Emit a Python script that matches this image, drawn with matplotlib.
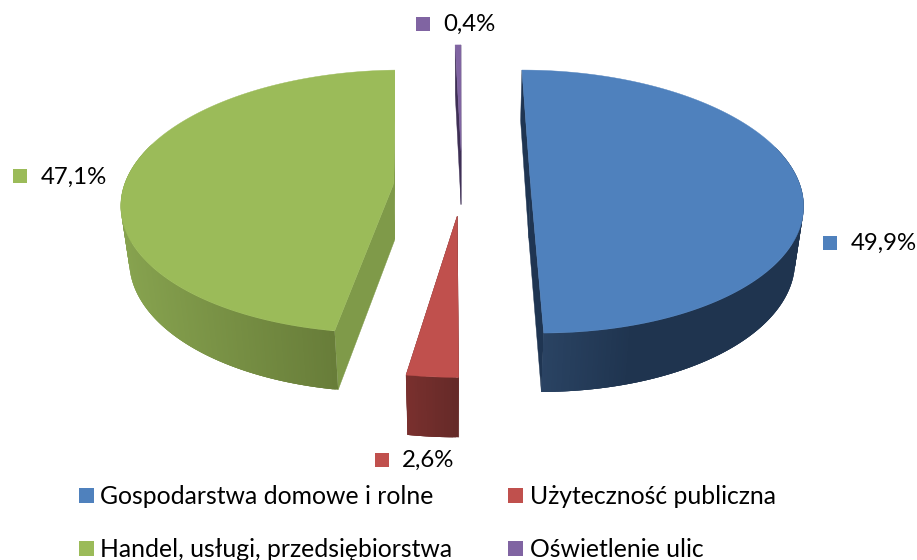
import numpy as np
import matplotlib
matplotlib.use("Agg")
import matplotlib.pyplot as plt
from matplotlib.patches import Polygon
from matplotlib.lines import Line2D
from matplotlib.colors import to_rgb
from matplotlib.transforms import Bbox, TransformedBbox

# ---- data ----
categories = ["Gospodarstwa domowe i rolne", "Użyteczność publiczna",
              "Handel, usługi, przedsiębiorstwa", "Oświetlenie ulic"]
values = [49.9, 2.6, 47.1, 0.4]
value_labels = ["49,9%", "2,6%", "47,1%", "0,4%"]

# ---- style ----
top_colors = ["#4F81BD", "#C0504D", "#9BBB59", "#8064A2"]
rim_light = ["#2D4768", "#7A302E", "#87A34F", "#5A4575"]
rim_dark = ["#1F344F", "#652A28", "#5F7233", "#3E2F55"]
cut_colors = ["#1F3552", "#6A2B29", "#7F9A49", "#3E2F55"]
gradient_span = [0.4, 1.0, 1.0, 1.0]

# exploded offset of each slice (plane units, x right / y far)
offset_x = [0.262, -0.01, -0.246, 0.004]
offset_y = [0.0, -0.245, 0.0, 0.26]
clip_right = [None, None, 394.5, None]
draw_order = [3, 0, 2, 1]

# perspective model of the pie, in pixels
VX, Y0 = 460.0, 183.4
RX, RY, DEPTH = 269.0, 129.0, 56.0
K, G = 0.138, 0.025

# data-label swatch centres and text starts
label_swatch = [(829.5, 242.5), (381.5, 459.5), (19.5, 176), (422.5, 23.5)]
label_text_x = [851, 402, 41, 443]
FONT = "Lato"
FS_LABEL = 17.3
FS_LEGEND = 17.8

W, H = 917, 560
fig = plt.figure(figsize=(W / 100, H / 100), dpi=100)
ax = fig.add_axes([0, 0, 1, 1])
ax.set_xlim(0, W)
ax.set_ylim(H, 0)
ax.axis("off")


def proj(u, v, z=0.0):
    u, v = np.asarray(u, float), np.asarray(v, float)
    s = 1.0 / (1.0 + K * v + G * z)
    return np.column_stack([VX + RX * u * s, Y0 + (-RY * v + DEPTH * z) * s])


def mix(a, b, t):
    a, b = np.array(to_rgb(a)), np.array(to_rgb(b))
    return tuple(a + (b - a) * t)


total = sum(values)
edges = np.concatenate([[0], np.cumsum(values)]) / total * 2 * np.pi
for i in draw_order:
    a0, a1 = edges[i], edges[i + 1]
    dx, dy = offset_x[i], offset_y[i]
    th = np.linspace(a0, a1, max(6, int((a1 - a0) * 120)))
    u = dx + np.sin(th)  # clockwise from the far side
    v = dy + np.cos(th)
    parts = []

    # radial cut faces
    for j in (0, -1):
        pts = np.vstack([proj([dx, u[j]], [dy, v[j]], 0),
                         proj([u[j], dx], [v[j], dy], 1)])
        parts.append(ax.add_patch(Polygon(pts, closed=True, fc=cut_colors[i],
                                          ec=cut_colors[i], lw=0.3)))

    # outer rim: overlapping strips so that no seams show
    top = proj(u, v, 0)
    bot = proj(u, v, 1)
    xmin, xmax = top[:, 0].min(), top[:, 0].max()
    n = len(th)
    for k in range(n - 1):
        if np.cos(th[k]) > 0.3:
            continue
        e = min(k + 3, n - 1)
        t = np.clip((top[k, 0] - xmin) / max(xmax - xmin, 1) / gradient_span[i], 0, 1)
        col = mix(rim_light[i], rim_dark[i], t)
        quad = np.vstack([top[k:e + 1], bot[k:e + 1][::-1]])
        parts.append(ax.add_patch(Polygon(quad, closed=True, fc=col, ec="none", lw=0)))

    # top face
    face = np.vstack([proj([dx], [dy], 0), top])
    parts.append(ax.add_patch(Polygon(face, closed=True, fc=top_colors[i],
                                      ec=top_colors[i], lw=0.3)))

    if clip_right[i] is not None:
        box = TransformedBbox(Bbox([[0, 0], [clip_right[i], H]]), ax.transData)
        for p in parts:
            p.set_clip_box(box)

# data labels
for i, lab in enumerate(value_labels):
    ax.scatter(*label_swatch[i], marker="s", s=116, color=top_colors[i], linewidths=0)
    ax.text(label_text_x[i], label_swatch[i][1] + 1, lab, va="center", ha="left",
            fontsize=FS_LABEL, family=FONT, color="#000000")

# legend (column order as in the reference)
order = [0, 2, 1, 3]
handles = [Line2D([], [], ls="none", marker="s", ms=10.8, mew=0, color=top_colors[i]) for i in order]
leg = ax.legend(handles, [categories[i] for i in order], ncol=2, frameon=False,
                prop={"family": FONT, "size": FS_LEGEND},
                handlelength=10.8 / FS_LEGEND, handletextpad=0.3, columnspacing=2.22,
                labelspacing=1.22, borderpad=0, borderaxespad=0,
                loc="lower left", bbox_to_anchor=(78 / W, 1 - 561 / H),
                bbox_transform=ax.transAxes)

fig.savefig("out.png", dpi=100, facecolor="white")
